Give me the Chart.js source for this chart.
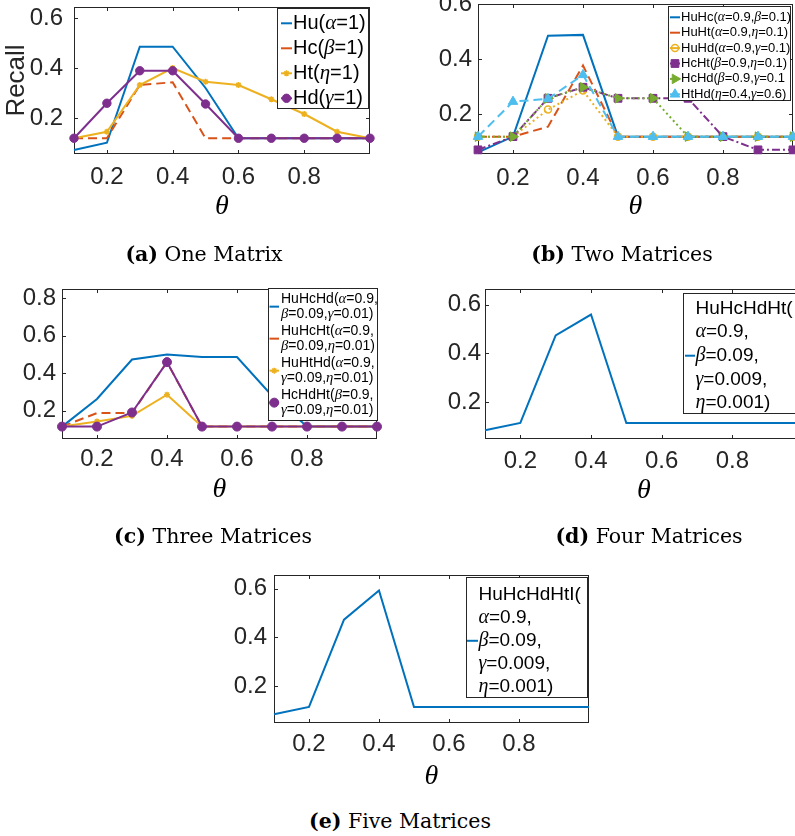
<!DOCTYPE html>
<html>
<head>
<meta charset="utf-8">
<script src="https://cdn.jsdelivr.net/npm/chart.js@4.4.1/dist/chart.umd.min.js"></script>
<style>
  body { margin: 0; width: 795px; height: 836px; overflow: hidden; background: #fff; position: relative; }
  canvas { position: absolute; }
  .cap { position: absolute; font-family: 'DejaVu Serif'; font-size: 20.5px; line-height: 1; color: #000;
         transform: translate(-50%, -50%); white-space: nowrap; }
</style>
</head>
<body>
<canvas id="pa"></canvas>
<canvas id="pb"></canvas>
<canvas id="pc"></canvas>
<canvas id="pd"></canvas>
<canvas id="pe"></canvas>
<div class="cap" style="left:204px;top:254px"><b>(a)</b> One Matrix</div>
<div class="cap" style="left:622px;top:254px"><b>(b)</b> Two Matrices</div>
<div class="cap" style="left:213px;top:536px"><b>(c)</b> Three Matrices</div>
<div class="cap" style="left:649px;top:536px"><b>(d)</b> Four Matrices</div>
<div class="cap" style="left:400px;top:821px"><b>(e)</b> Five Matrices</div>
<script>
// ---- data ----
const thetas = [0.1, 0.2, 0.3, 0.4, 0.5, 0.6, 0.7, 0.8, 0.9, 1.0];
const xTickValues = [0.2, 0.4, 0.6, 0.8];
const xTickLabels = ['0.2', '0.4', '0.6', '0.8'];
const yTicksShort = [0.2, 0.4, 0.6];
const yTicksShortLabels = ['0.2', '0.4', '0.6'];
const yTicksLong = [0.2, 0.4, 0.6, 0.8];
const yTicksLongLabels = ['0.2', '0.4', '0.6', '0.8'];

// (a) one matrix
const oneHu = [0.072, 0.101, 0.485, 0.485, 0.32, 0.119, 0.119, 0.119, 0.119, 0.119];
const oneHc = [0.119, 0.119, 0.332, 0.343, 0.119, 0.119, 0.119, 0.119, 0.119, 0.119];
const oneHt = [0.119, 0.145, 0.332, 0.400, 0.345, 0.332, 0.275, 0.216, 0.145, 0.119];
const oneHd = [0.119, 0.259, 0.389, 0.389, 0.256, 0.119, 0.119, 0.119, 0.119, 0.119];
const labelsOne = ['Hu(α=1)', 'Hc(β=1)', 'Ht(η=1)', 'Hd(γ=1)'];

// (b) two matrices
const twoHuHc = [0.062, 0.119, 0.485, 0.488, 0.119, 0.119, 0.119, 0.119, 0.119, 0.119];
const twoHuHt = [0.119, 0.119, 0.155, 0.377, 0.119, 0.119, 0.119, 0.119, 0.119, 0.119];
const twoHuHd = [0.119, 0.119, 0.217, 0.286, 0.119, 0.119, 0.119, 0.119, 0.119, 0.119];
const twoHcHt = [0.071, 0.119, 0.258, 0.298, 0.258, 0.258, 0.258, 0.119, 0.071, 0.071];
const twoHcHd = [0.119, 0.119, 0.258, 0.298, 0.258, 0.258, 0.119, 0.119, 0.119, 0.119];
const twoHtHd = [0.119, 0.246, 0.256, 0.343, 0.119, 0.119, 0.119, 0.119, 0.119, 0.119];
const labelsTwo = ['HuHc(α=0.9,β=0.1)', 'HuHt(α=0.9,η=0.1)', 'HuHd(α=0.9,γ=0.1)',
                   'HcHt(β=0.9,η=0.1)', 'HcHd(β=0.9,γ=0.1', 'HtHd(η=0.4,γ=0.6)'];

// (c) three matrices
const threeHuHcHd = [0.116, 0.263, 0.473, 0.500, 0.486, 0.486, 0.280, 0.116, 0.116, 0.116];
const threeHuHcHt = [0.116, 0.188, 0.188, 0.459, 0.116, 0.116, 0.116, 0.116, 0.116, 0.116];
const threeHuHtHd = [0.116, 0.143, 0.173, 0.286, 0.116, 0.116, 0.116, 0.116, 0.116, 0.116];
const threeHcHdHt = [0.116, 0.116, 0.191, 0.459, 0.116, 0.116, 0.116, 0.116, 0.116, 0.116];
const labelsThree = [['HuHcHd(α=0.9,', 'β=0.09,γ=0.01)'], ['HuHcHt(α=0.9,', 'β=0.09,η=0.01)'],
                     ['HuHtHd(α=0.9,', 'γ=0.09,η=0.01)'], ['HcHdHt(β=0.9,', 'γ=0.09,η=0.01)']];

// (d) four matrices
const fourHuHcHdHt = [0.084, 0.114, 0.474, 0.560, 0.114, 0.114, 0.114, 0.114, 0.114, 0.114];
const labelsFour = [['HuHcHdHt(', 'α=0.9,', 'β=0.09,', 'γ=0.009,', 'η=0.001)']];

// (e) five matrices
const fiveHuHcHdHtI = [0.084, 0.114, 0.473, 0.593, 0.114, 0.114, 0.114, 0.114, 0.114, 0.114];
const labelsFive = [['HuHcHdHtI(', 'α=0.9,', 'β=0.09,', 'γ=0.009,', 'η=0.001)']];

// ---- styles ----
const C = { blue: '#0072BD', orange: '#D95319', yellow: '#EDB120', purple: '#7E2F8E', green: '#77AC30', cyan: '#4DBEEE' };
const DASH = [9, 5], DOT = [2, 3], DASHDOT = [8, 3, 2, 3];
const INK = '#262626';

function drawRich(ctx, text, x, y, size) {
  ctx.textBaseline = 'middle';
  ctx.textAlign = 'left';
  ctx.fillStyle = '#000';
  for (const ch of text) {
    const greek = /[αβγηθ]/.test(ch);
    ctx.font = greek ? `italic ${size * 1.05}px "Liberation Serif"` : `${size}px "Liberation Sans"`;
    ctx.fillText(ch, x, y);
    x += ctx.measureText(ch).width;
  }
}

// axes box with inward ticks, like the original figure
const axesBox = {
  id: 'axesBox',
  beforeDatasetsDraw(chart) {
    const { ctx, chartArea: a, scales: { x, y } } = chart;
    ctx.save();
    ctx.strokeStyle = INK;
    ctx.lineWidth = 1;
    ctx.strokeRect(Math.round(a.left) + 0.5, Math.round(a.top) + 0.5, Math.round(a.width) - 1, Math.round(a.height) - 1);
    ctx.beginPath();
    x.ticks.forEach(t => {
      const px = Math.round(x.getPixelForValue(t.value)) + 0.5;
      ctx.moveTo(px, a.bottom); ctx.lineTo(px, a.bottom - 4);
      ctx.moveTo(px, a.top); ctx.lineTo(px, a.top + 4);
    });
    y.ticks.forEach(t => {
      const py = Math.round(y.getPixelForValue(t.value)) + 0.5;
      ctx.moveTo(a.left, py); ctx.lineTo(a.left + 4, py);
      ctx.moveTo(a.right, py); ctx.lineTo(a.right - 4, py);
    });
    ctx.stroke();
    ctx.restore();
  }
};

// boxed legend drawn inside the axes
const boxLegend = {
  id: 'boxLegend',
  afterDraw(chart, args, o) {
    const ctx = chart.ctx;
    ctx.save();
    ctx.translate(-o.ox, -o.oy);
    const [x1, y1, x2, y2] = o.box;
    ctx.fillStyle = '#fff';
    ctx.fillRect(x1, y1, x2 - x1, y2 - y1);
    ctx.strokeStyle = INK;
    ctx.lineWidth = 1;
    ctx.strokeRect(Math.round(x1) + 0.5, Math.round(y1) + 0.5, Math.round(x2 - x1), Math.round(y2 - y1));
    o.items.forEach((lines, e) => {
      const ds = chart.data.datasets[e];
      const ly = o.y0 + e * o.entryPitch;
      const sy = ly + (lines.length - 1) / 2 * o.linePitch;
      ctx.strokeStyle = ds.borderColor;
      ctx.lineWidth = 2;
      ctx.setLineDash([]);
      ctx.beginPath();
      ctx.moveTo(o.s1, sy); ctx.lineTo(o.s2, sy);
      ctx.stroke();
      if (ds.pointRadius > 0) {
        ctx.fillStyle = ds.pointBackgroundColor;
        ctx.strokeStyle = ds.pointBorderColor;
        ctx.lineWidth = ds.pointBorderWidth;
        Chart.helpers.drawPoint(ctx, { pointStyle: ds.pointStyle, radius: ds.pointRadius,
          rotation: ds.pointRotation, borderWidth: ds.pointBorderWidth }, (o.s1 + o.s2) / 2, sy);
      }
      lines.forEach((t, k) => drawRich(ctx, t, o.tx, ly + k * o.linePitch, o.size));
    });
    ctx.restore();
  }
};

function toDataset(s, i, n) {
  return {
    label: [].concat(s.label).join(' '),
    data: thetas.map((t, k) => ({ x: t, y: s.values[k] })),
    borderColor: s.color,
    backgroundColor: s.color,
    borderWidth: 2,
    borderDash: s.dash || [],
    pointStyle: s.point || 'circle',
    pointRadius: s.r || 0,
    pointHoverRadius: s.r || 0,
    pointRotation: s.rot || 0,
    pointBorderColor: s.color,
    pointBackgroundColor: s.open ? 'rgba(0,0,0,0)' : s.color,
    pointBorderWidth: s.bw || 1,
    fill: false,
    tension: 0,
    clip: false,
    order: n - i
  };
}

const panels = [
  { id: 'pa', l: 74, r: 370, t: 7, b: 154, theta: 207, yw: 74, yMin: 0.056, yMax: 0.644,
    yTicks: yTicksShort, yLabels: yTicksShortLabels, yPad: 11, xPad: 11, yTitle: 'Recall',
    series: [
      { values: oneHu, label: labelsOne[0], color: C.blue },
      { values: oneHc, label: labelsOne[1], color: C.orange, dash: DASH },
      { values: oneHt, label: labelsOne[2], color: C.yellow, point: 'star', r: 3, bw: 1.5 },
      { values: oneHd, label: labelsOne[3], color: C.purple, point: 'circle', r: 4.2 }
    ],
    legend: { box: [277, 8, 368, 108], s1: 281, s2: 292, tx: 293, size: 20, y0: 23.3, entryPitch: 25, linePitch: 0,
              items: labelsOne.map(l => [l]) } },
  { id: 'pb', l: 478, r: 793, t: 4, b: 154, theta: 207, yw: 60, yMin: 0.056, yMax: 0.6,
    yTicks: yTicksShort, yLabels: yTicksShortLabels, yPad: 6, xPad: 12,
    series: [
      { values: twoHuHc, label: labelsTwo[0], color: C.blue },
      { values: twoHuHt, label: labelsTwo[1], color: C.orange, dash: DASH },
      { values: twoHuHd, label: labelsTwo[2], color: C.yellow, dash: DOT, point: 'circle', r: 3.5, open: true, bw: 1.5 },
      { values: twoHcHt, label: labelsTwo[3], color: C.purple, dash: DASHDOT, point: 'rect', r: 5.5 },
      { values: twoHcHd, label: labelsTwo[4], color: C.green, dash: DOT, point: 'triangle', r: 5.5, rot: 90 },
      { values: twoHtHd, label: labelsTwo[5], color: C.cyan, dash: DASH, point: 'triangle', r: 5.5 }
    ],
    legend: { box: [668, 6, 790, 100], s1: 670, s2: 680, tx: 681, size: 13, y0: 17.3, entryPitch: 15.4, linePitch: 0,
              items: labelsTwo.map(l => [l]) } },
  { id: 'pc', l: 62, r: 377, t: 289, b: 439, theta: 490, yw: 60, yMin: 0.05, yMax: 0.848,
    yTicks: yTicksLong, yLabels: yTicksLongLabels, yPad: 6, xPad: 8,
    series: [
      { values: threeHuHcHd, label: labelsThree[0], color: C.blue },
      { values: threeHuHcHt, label: labelsThree[1], color: C.orange, dash: DASH },
      { values: threeHuHtHd, label: labelsThree[2], color: C.yellow, point: 'star', r: 3, bw: 1.5 },
      { values: threeHcHdHt, label: labelsThree[3], color: C.purple, point: 'circle', r: 4.5 }
    ],
    legend: { box: [268, 288, 377, 420], s1: 269.5, s2: 279, tx: 281, size: 14, y0: 299, entryPitch: 32, linePitch: 15.3,
              items: labelsThree } },
  { id: 'pd', l: 485, r: 803, t: 289, b: 439, theta: 491, yw: 60, yMin: 0.048, yMax: 0.665,
    yTicks: yTicksShort, yLabels: yTicksShortLabels, yPad: 4, xPad: 10,
    series: [ { values: fourHuHcHdHt, label: labelsFour[0], color: C.blue } ],
    legend: { box: [683, 293, 810, 413], s1: 685, s2: 695, tx: 695.5, size: 19, y0: 308.3, entryPitch: 0, linePitch: 23.7,
              items: labelsFour } },
  { id: 'pe', l: 274, r: 589, t: 575, b: 723, theta: 777, yw: 60, yMin: 0.048, yMax: 0.657,
    yTicks: yTicksShort, yLabels: yTicksShortLabels, yPad: 7, xPad: 9,
    series: [ { values: fiveHuHcHdHtI, label: labelsFive[0], color: C.blue } ],
    legend: { box: [466, 577, 587, 697], s1: 467, s2: 478, tx: 478.5, size: 19, y0: 595, entryPitch: 0, linePitch: 22.9,
              items: labelsFive } }
];

panels.forEach(P => {
  const cx = P.l - P.yw, cy = P.t - 40;
  const cw = P.r + 12 - cx, ch = P.theta + 14 - cy;
  const cv = document.getElementById(P.id);
  cv.width = cw; cv.height = ch;
  cv.style.left = cx + 'px'; cv.style.top = cy + 'px';
  const n = P.series.length;

  new Chart(cv.getContext('2d'), {
    type: 'line',
    data: { datasets: P.series.map((s, i) => toDataset(s, i, n)) },
    options: {
      responsive: false,
      animation: false,
      events: [],
      devicePixelRatio: 1,
      layout: { padding: { top: P.t - cy, right: cx + cw - P.r, left: 0, bottom: 0 } },
      scales: {
        x: {
          type: 'linear', min: 0.1, max: 1.0,
          grid: { display: false, drawTicks: false, tickLength: 0 },
          border: { display: false },
          afterBuildTicks: s => { s.ticks = xTickValues.map(v => ({ value: v })); },
          afterFit: s => { s.height = cy + ch - P.b; },
          ticks: { padding: P.xPad, color: INK, maxRotation: 0, autoSkip: false,
                   font: { family: 'Liberation Sans', size: 24, lineHeight: 1 },
                   callback: (v, i) => xTickLabels[i] },
          title: { display: true, text: 'θ', color: '#000', padding: 0,
                   font: { family: 'Liberation Serif', style: 'italic', size: 28, lineHeight: 1 } }
        },
        y: {
          type: 'linear', min: P.yMin, max: P.yMax,
          grid: { display: false, drawTicks: false, tickLength: 0 },
          border: { display: false },
          afterBuildTicks: s => { s.ticks = P.yTicks.map(v => ({ value: v })); },
          afterFit: s => { s.width = P.l - cx; },
          ticks: { padding: P.yPad, color: INK, autoSkip: false,
                   font: { family: 'Liberation Sans', size: 24, lineHeight: 1 },
                   callback: (v, i) => P.yLabels[i] },
          title: P.yTitle
            ? { display: true, text: P.yTitle, color: INK, padding: { top: 4, bottom: 0 },
                font: { family: 'Liberation Sans', size: 26, lineHeight: 1 } }
            : { display: false }
        }
      },
      plugins: {
        legend: { display: false },
        tooltip: { enabled: false },
        boxLegend: Object.assign({ ox: cx, oy: cy }, P.legend)
      }
    },
    plugins: [axesBox, boxLegend]
  });
});
</script>
</body>
</html>
